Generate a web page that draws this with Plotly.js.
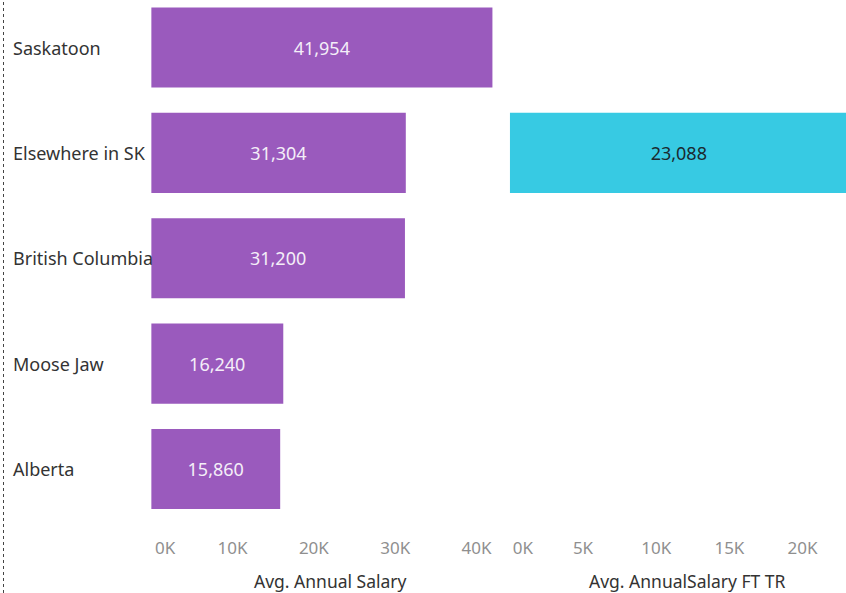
<!DOCTYPE html>
<html>
<head>
<meta charset="utf-8">
<script src="https://cdn.plot.ly/plotly-3.0.1.min.js"></script>
<style>html,body{margin:0;padding:0;background:#fff;}#chart{width:846px;height:593px;}</style>
</head>
<body>
<div id="chart"></div>
<script>
const categories = ["Saskatoon", "Elsewhere in SK", "British Columbia", "Moose Jaw", "Alberta"];
const avgAnnualSalary = [41954, 31304, 31200, 16240, 15860];
const avgAnnualSalaryFTTR = [null, 23088, null, null, null];
const leftTickVals = [0, 10000, 20000, 30000, 40000];
const leftTickText = ["0K", "10K", "20K", "30K", "40K"];
const rightTickVals = [0, 5000, 10000, 15000, 20000];
const rightTickText = ["0K", "5K", "10K", "15K", "20K"];
const leftTitle = "Avg. Annual Salary";
const rightTitle = "Avg. AnnualSalary FT TR";

const W = 846, H = 593;
const FONT = "Noto Sans";
const purple = "#9A5ABD", cyan = "#37CAE3";
const fmt = v => v == null ? "" : v.toLocaleString("en-US");

const traces = [
  {
    type: "bar", orientation: "h",
    y: categories, x: avgAnnualSalary,
    xaxis: "x", yaxis: "y",
    marker: {color: purple},
    text: avgAnnualSalary.map(fmt),
    textposition: "inside", insidetextanchor: "middle",
    textfont: {family: FONT, size: 18, color: "#f4eef8"},
    hoverinfo: "skip", cliponaxis: true
  },
  {
    type: "bar", orientation: "h",
    y: categories, x: avgAnnualSalaryFTTR,
    xaxis: "x2", yaxis: "y",
    marker: {color: cyan},
    text: avgAnnualSalaryFTTR.map(fmt),
    textposition: "inside", insidetextanchor: "middle",
    textfont: {family: FONT, size: 18, color: "#1b2a30"},
    hoverinfo: "skip", cliponaxis: true
  },
  // empty traces so the overlay axes (carrying the shifted "0K" labels) are drawn
  {type: "scatter", x: [], y: [], xaxis: "x3", yaxis: "y", hoverinfo: "skip"},
  {type: "scatter", x: [], y: [], xaxis: "x4", yaxis: "y", hoverinfo: "skip"}
];

const plotBottom = 521;
const pitch = 105.375;
const yTop = -47.5 / pitch;
const yBot = 4 + (plotBottom - 469) / pitch;

const leftDomain = [151.2 / W, 508 / W], leftRange = [0, 43870];
const rightDomain = [509.8 / W, 1], rightRange = [0, 22965];
const tickFont = {family: FONT, size: 17, color: "#8f8f8f"};
const baseAxis = {
  anchor: "y", showgrid: false, zeroline: false, showline: false, ticks: "",
  ticklabelstandoff: 15, fixedrange: true, tickfont: tickFont
};

const layout = {
  width: W, height: H,
  margin: {l: 0, r: 0, t: 0, b: 0},
  paper_bgcolor: "#fff", plot_bgcolor: "#fff",
  showlegend: false,
  bargap: 0.24,
  font: {family: FONT},
  xaxis: Object.assign({}, baseAxis, {
    domain: leftDomain, range: leftRange,
    tickvals: leftTickVals.slice(1), ticktext: leftTickText.slice(1)
  }),
  xaxis2: Object.assign({}, baseAxis, {
    domain: rightDomain, range: rightRange,
    tickvals: rightTickVals.slice(1), ticktext: rightTickText.slice(1)
  }),
  xaxis3: Object.assign({}, baseAxis, {
    overlaying: "x", domain: leftDomain, range: leftRange,
    tickvals: leftTickVals.slice(0, 1), ticktext: leftTickText.slice(0, 1),
    ticklabelshift: 14
  }),
  xaxis4: Object.assign({}, baseAxis, {
    overlaying: "x2", domain: rightDomain, range: rightRange,
    tickvals: rightTickVals.slice(0, 1), ticktext: rightTickText.slice(0, 1),
    ticklabelshift: 13
  }),
  yaxis: {
    domain: [1 - plotBottom / H, 1],
    type: "category", categoryorder: "array", categoryarray: categories,
    range: [yBot, yTop],
    showticklabels: false, showgrid: false, zeroline: false, showline: false, ticks: "",
    fixedrange: true
  },
  annotations: categories.map(c => ({
    xref: "paper", yref: "y", x: 11 / W, y: c,
    xanchor: "left", yanchor: "middle", showarrow: false,
    text: c, font: {family: FONT, size: 18, color: "#333333"}
  })).concat([
    {xref: "paper", yref: "paper", x: 330 / W, y: 1 - 581 / H, xanchor: "center", yanchor: "middle",
     showarrow: false, text: leftTitle, font: {family: FONT, size: 17.5, color: "#333333"}},
    {xref: "paper", yref: "paper", x: 687 / W, y: 1 - 581 / H, xanchor: "center", yanchor: "middle",
     showarrow: false, text: rightTitle, font: {family: FONT, size: 17.5, color: "#333333"}}
  ]),
  shapes: [
    {type: "line", xref: "paper", yref: "paper", x0: 3.5 / W, x1: 3.5 / W, y0: 0, y1: 1,
     line: {color: "#444444", width: 1, dash: "dot"}}
  ]
};

Plotly.newPlot("chart", traces, layout, {displayModeBar: false, staticPlot: true});
</script>
</body>
</html>
